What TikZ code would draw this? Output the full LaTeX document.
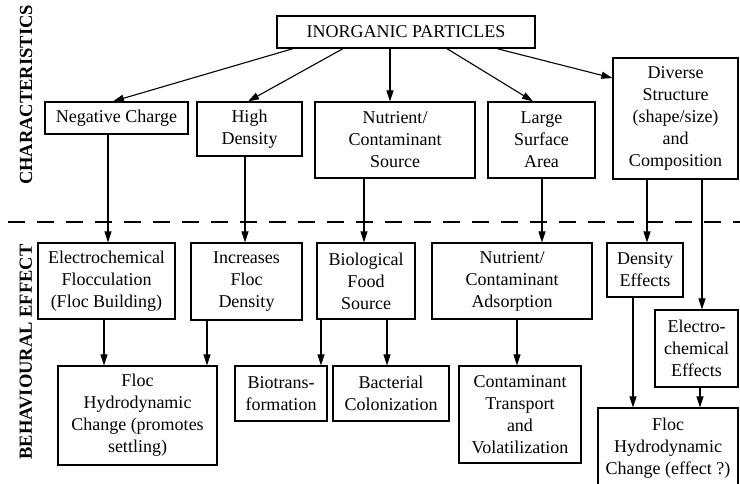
\documentclass[tikz,border=0pt]{standalone}
\usepackage{fontspec}
\setmainfont{Liberation Serif}
\usetikzlibrary{arrows.meta}
\begin{document}
\begin{tikzpicture}[x=1pt,y=-1pt,
  box/.style={draw, line width=1.3pt, align=center, inner sep=0pt,
    font=\fontsize{18}{22}\selectfont},
  arr/.style={-{Triangle[length=11pt,width=7pt]}, line width=1.1pt},
  side/.style={rotate=90, font=\fontsize{18.5}{22}\selectfont\bfseries}]
\useasboundingbox (0,0) rectangle (740,484);
\clip (0,0) rectangle (740,484);
% side labels
\node[side] (lchar) at (26,95) {CHARACTERISTICS};
\node[side] (lbeh) at (26,352) {BEHAVIOURAL EFFECT};
% divider
\draw[line width=1.5pt, dash pattern=on 17pt off 12pt] (8,222) -- (740,222);
% top
\node[box, minimum width=258pt, minimum height=32pt] (top) at (406,32) {INORGANIC PARTICLES};
% characteristics
\node[box, minimum width=143pt, minimum height=32pt] (neg) at (116.5,118) {Negative Charge};
\node[box, minimum width=105pt, minimum height=54pt] (high) at (249.5,129) {High\\Density};
\node[box, minimum width=160pt, minimum height=76pt] (nutr) at (395,140) {Nutrient/\\Contaminant\\Source};
\node[box, minimum width=107pt, minimum height=76pt] (large) at (541.5,140) {Large\\Surface\\Area};
\node[box, minimum width=125pt, minimum height=121pt] (div) at (675.5,118.5) {Diverse\\Structure\\(shape/size)\\and\\Composition};
% behavioural effects
\node[box, minimum width=137pt, minimum height=76pt] (elec) at (106.5,281) {Electrochemical\\Flocculation\\(Floc Building)};
\node[box, minimum width=111pt, minimum height=77pt] (incr) at (246.5,281.5) {Increases\\Floc\\Density};
\node[box, minimum width=98pt, minimum height=76pt] (bio) at (366,281) {Biological\\Food\\Source};
\node[box, minimum width=160pt, minimum height=76pt] (ads) at (512,281) {Nutrient/\\Contaminant\\Adsorption};
\node[box, minimum width=76pt, minimum height=54pt] (dens) at (645,270) {Density\\Effects};
\node[box, minimum width=83pt, minimum height=77pt] (elch) at (696.5,348.5) {Electro-\\chemical\\Effects};
\node[box, minimum width=159pt, minimum height=99pt] (flocA) at (137.5,415.5) {Floc\\Hydrodynamic\\Change (promotes\\settling)};
\node[box, minimum width=92pt, minimum height=55pt] (biot) at (281,393.5) {Biotrans-\\formation};
\node[box, minimum width=116pt, minimum height=55pt] (bact) at (391,393.5) {Bacterial\\Colonization};
\node[box, minimum width=122pt, minimum height=97pt] (trans) at (520,414.5) {Contaminant\\Transport\\and\\Volatilization};
\node[box, minimum width=140pt, minimum height=80pt] (flocB) at (668,448) {Floc\\Hydrodynamic\\Change (effect ?)};
% arrows from top
\draw[arr] (top.south -| 293,0) -- (neg.north -| 113,0);
\draw[arr] (top.south -| 343,0) -- (high.north -| 248,0);
\draw[arr] (top.south -| 390,0) -- (nutr.north -| 390,0);
\draw[arr] (top.south -| 447,0) -- (large.north -| 533,0);
\draw[arr] (top.south -| 497,0) -- (div.west |- 0,78);
% across divider
\draw[arr] (neg.south -| 108,0) -- (elec.north -| 108,0);
\draw[arr] (high.south -| 245,0) -- (incr.north -| 245,0);
\draw[arr] (nutr.south -| 364,0) -- (bio.north -| 364,0);
\draw[arr] (large.south -| 542,0) -- (ads.north -| 542,0);
\draw[arr] (div.south -| 647,0) -- (dens.north -| 647,0);
\draw[arr] (div.south -| 702,0) -- (elch.north -| 702,0);
% lower level
\draw[arr] (elec.south -| 104,0) -- (flocA.north -| 104,0);
\draw[arr] (incr.south -| 207,0) -- (flocA.north -| 207,0);
\draw[arr] (bio.south -| 321,0) -- (biot.north -| 321,0);
\draw[arr] (bio.south -| 387,0) -- (bact.north -| 387,0);
\draw[arr] (ads.south -| 517,0) -- (trans.north -| 517,0);
\draw[arr] (dens.south -| 633,0) -- (flocB.north -| 633,0);
\draw[arr] (elch.south -| 700,0) -- (flocB.north -| 700,0);
\end{tikzpicture}
\end{document}
